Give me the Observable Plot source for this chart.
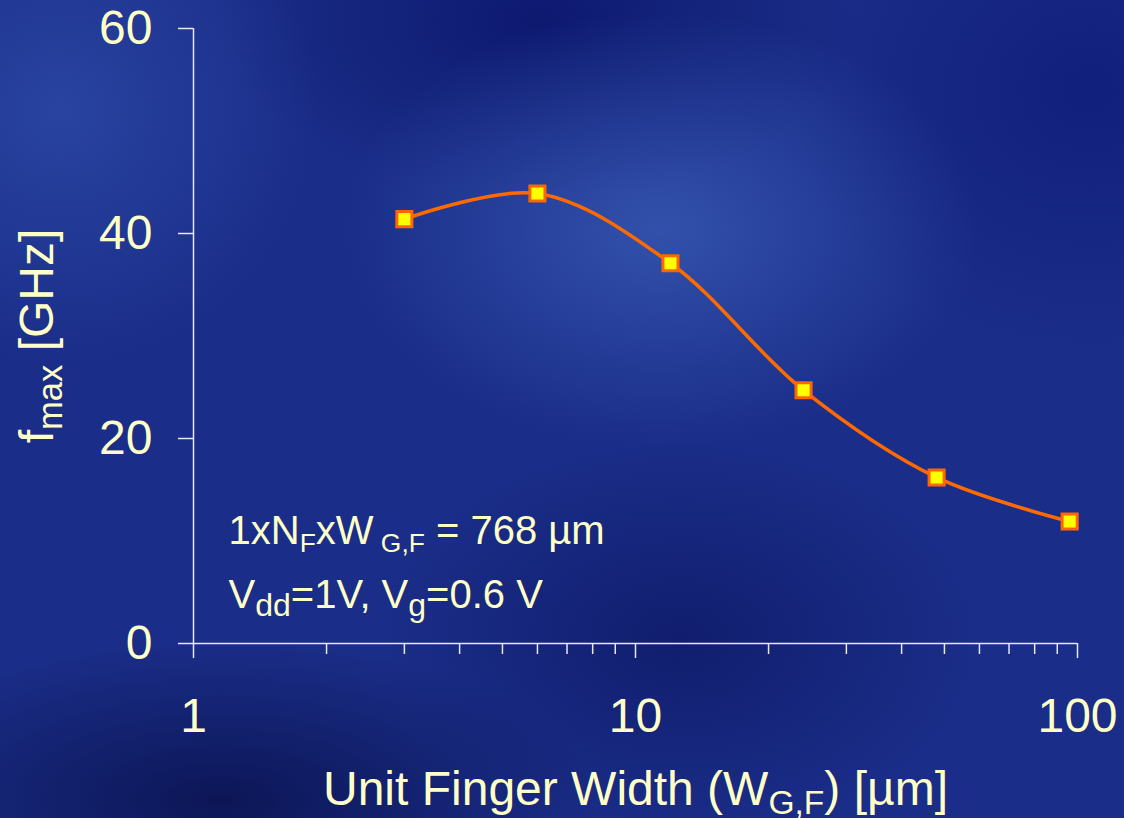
<!DOCTYPE html>
<html><head><meta charset="utf-8">
<script src="https://cdn.jsdelivr.net/npm/d3@7"></script>
<script src="https://cdn.jsdelivr.net/npm/@observablehq/plot@0.6"></script>
<style>
body{margin:0;background:#182c88;}
#bg{width:1124px;height:818px;position:relative;overflow:hidden;
background:
 radial-gradient(ellipse 320px 220px at 660px 230px, rgba(70,110,200,0.55), rgba(70,110,200,0)),
 radial-gradient(ellipse 260px 260px at 60px 110px, rgba(55,90,185,0.5), rgba(55,90,185,0)),
 radial-gradient(ellipse 380px 160px at 220px 800px, rgba(5,10,60,0.65), rgba(5,10,60,0)),
 radial-gradient(ellipse 320px 180px at 540px 20px, rgba(5,12,95,0.6), rgba(5,12,95,0)),
 radial-gradient(ellipse 300px 260px at 1090px 90px, rgba(10,20,115,0.55), rgba(10,20,115,0)),
 radial-gradient(ellipse 300px 200px at 680px 640px, rgba(8,15,85,0.5), rgba(8,15,85,0)),
 #1a2d88;}
svg{display:block;}
</style></head><body><div id="bg"></div>
<script>
const widths = [3, 6, 12, 24, 48, 96];
const fmax = [41.4, 43.9, 37.1, 24.7, 16.2, 11.9];
const xMinorTicks = [2,3,4,5,6,7,8,9,20,30,40,50,60,70,80,90];
const xMajorTicks = [1, 10, 100];
const yTicks = [0, 20, 40, 60];
const xLabel = "Unit Finger Width (W_{G,F}) [µm]";
const yLabel = "f_{max} [GHz]";
const notes = ["1xN_{F}xW_{ G,F} = 768 µm", "V_{dd}=1V, V_{g}=0.6 V"];
const noteX = [1.2, 1.2];
const noteY = [11.0, 4.7];

// subscript scale per text string
const subScale = new Map([[notes[0], 0.66], [notes[1], 0.8], [xLabel, 0.7], [yLabel, 0.72]]);

const data = widths.map((w, i) => ({w, f: fmax[i]}));
const cream = "#ffffc8";
const axisStroke = "#e6e8f2";
const font = "'Liberation Sans', Arial, sans-serif";

const plot = Plot.plot({
  width: 1124, height: 818,
  marginLeft: 193, marginRight: 47, marginTop: 28, marginBottom: 175,
  style: {background: "transparent", fontFamily: font, color: cream, overflow: "visible"},
  x: {type: "log", domain: [1, 100], axis: null},
  y: {domain: [0, 60], axis: null},
  marks: [
    Plot.ruleY([0], {stroke: axisStroke, strokeWidth: 1.5}),
    Plot.ruleX([1], {stroke: axisStroke, strokeWidth: 1.5}),
    Plot.axisX(xMinorTicks, {tickSize: 11, tickFormat: () => "", stroke: axisStroke, strokeWidth: 1.5, label: null}),
    Plot.axisX(xMajorTicks, {tickSize: 15, tickPadding: 39, fontSize: 48, tickFormat: d => String(d), stroke: axisStroke, strokeWidth: 1.5, fill: cream, label: null}),
    Plot.axisY(yTicks, {tickSize: 15, tickPadding: 26, fontSize: 48, tickFormat: d => String(d), stroke: axisStroke, strokeWidth: 1.5, fill: cream, label: null}),
    Plot.line(data, {x: "w", y: "f", curve: "catmull-rom", stroke: "#ff6a00", strokeWidth: 3.5}),
    Plot.dot(data, {x: "w", y: "f", symbol: "square", r: 8.5, fill: "#ffff00", stroke: "#ff6600", strokeWidth: 3}),
    Plot.text(notes, {x: (d, i) => noteX[i], y: (d, i) => noteY[i], text: d => d, textAnchor: "start", lineAnchor: "middle", fontSize: 40, fill: cream}),
    Plot.text([xLabel], {frameAnchor: "bottom", text: d => d, lineAnchor: "middle", dy: 146, fontSize: 48, fill: cream}),
    Plot.text([yLabel], {frameAnchor: "left", text: d => d, rotate: -90, textAnchor: "middle", lineAnchor: "middle", dx: -156, fontSize: 48, fill: cream})
  ]
});
document.getElementById("bg").appendChild(plot);

function richify(el) {
  const str = el.textContent;
  if (!str.includes("_{")) return;
  const fs = parseFloat(getComputedStyle(el).fontSize);
  const s = subScale.get(str) || 0.7;
  const shift = fs * 0.2;
  const parts = str.split(/(_\{[^}]*\})/).filter(p => p);
  el.textContent = "";
  const sel = d3.select(el);
  let lowered = false;
  for (const p of parts) {
    if (p.startsWith("_{")) {
      sel.append("tspan").attr("font-size", fs * s).attr("dy", lowered ? 0 : shift)
        .style("white-space", "pre").text(p.slice(2, -1));
      lowered = true;
    } else {
      const t = sel.append("tspan").style("white-space", "pre").text(p);
      if (lowered) { t.attr("dy", -shift); lowered = false; }
    }
  }
}
d3.select(plot).selectAll('g[aria-label="text"] text').each(function() { richify(this); });
</script>
</body></html>
